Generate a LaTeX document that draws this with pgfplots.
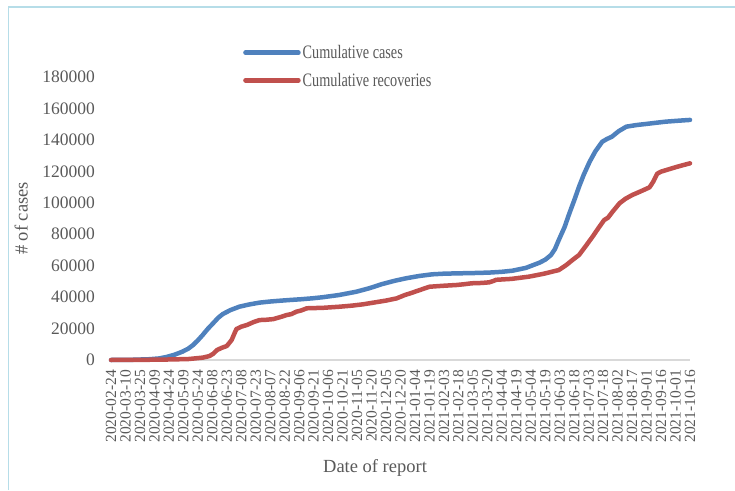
\documentclass[border=0pt]{standalone}
\usepackage{fontspec}
\setmainfont{Liberation Serif}
\newfontfamily\condfont[FakeStretch=0.75]{Liberation Serif}
\usepackage{pgfplots}
\pgfplotsset{compat=1.18}
\definecolor{cblue}{RGB}{79,129,189}
\definecolor{cred}{RGB}{192,80,77}
\definecolor{tgray}{RGB}{89,89,89}
\definecolor{agray}{RGB}{217,217,217}
\definecolor{framecol}{RGB}{182,221,232}
\begin{document}
\begin{tikzpicture}[x=1pt,y=1pt]
\useasboundingbox (0,0) rectangle (735,490);
\draw[framecol, line width=1.5pt] (8.5,0) -- (8.5,483) -- (735,483);
\begin{axis}[
  at={(111pt,130pt)}, anchor=south west,
  scale only axis, width=579pt, height=283pt,
  xmin=0, xmax=600, ymin=0, ymax=180000,
  axis x line=bottom, axis y line=left,
  x axis line style={agray, line width=1.5pt, -},
  y axis line style={draw=none},
  xtick={0,15,...,600},
  xticklabels={2020-02-24,2020-03-10,2020-03-25,2020-04-09,2020-04-24,2020-05-09,2020-05-24,2020-06-08,2020-06-23,2020-07-08,2020-07-23,2020-08-07,2020-08-22,2020-09-06,2020-09-21,2020-10-06,2020-10-21,2020-11-05,2020-11-20,2020-12-05,2020-12-20,2021-01-04,2021-01-19,2021-02-03,2021-02-18,2021-03-05,2021-03-20,2021-04-04,2021-04-19,2021-05-04,2021-05-19,2021-06-03,2021-06-18,2021-07-03,2021-07-18,2021-08-02,2021-08-17,2021-09-01,2021-09-16,2021-10-01,2021-10-16},
  xticklabel style={yshift=-10pt, rotate=90, anchor=east, font=\fontsize{15.5}{15.5}\selectfont, text=tgray, inner sep=0pt},
  ytick={0,20000,...,180000},
  scaled y ticks=false,
  yticklabel style={anchor=east, font=\fontsize{17.5}{17.5}\selectfont, text=tgray, inner sep=0pt, xshift=-16pt},
  /pgf/number format/.cd, fixed, precision=0, 1000 sep={}, assume math mode=true, /pgfplots/.cd,
  major tick length=0pt,
  xlabel={Date of report},
  xlabel style={at={(axis description cs:0.456,-0.382)}, anchor=center, font=\fontsize{18.5}{18.5}\selectfont, text=tgray},
  ylabel={\# of cases},
  ylabel style={at={(axis description cs:-0.155,0.5)}, anchor=center, font=\fontsize{18.5}{18.5}\selectfont, text=tgray},
  legend style={at={(axis description cs:0.228,1.037)}, anchor=west, draw=none, fill=none, inner sep=0pt, font=\condfont\fontsize{19}{27}\selectfont, text=tgray, row sep=9pt, /tikz/every even column/.append style={column sep=0pt}},
  legend cell align=left,
  legend image code/.code={\draw[#1, line cap=round] (0pt,0pt) -- (53pt,0pt);},
  clip=false,
]
\addplot[cblue, line width=4.5pt, line join=round, line cap=round] coordinates {
(0,0) (20,100) (40,500) (50,1000) (58,2000) (66,3400) (74,5300) (80,7200) (85,9500) (90,12500) (95,15900) (100,19600) (106,23500) (111,26800) (116,29300) (124,31800) (133,33900) (143,35300) (154,36500) (165,37200) (175,37700) (186,38200) (196,38600) (208,39200) (219,39900) (236,41300) (254,43400) (268,45700) (281,48300) (294,50400) (306,52000) (320,53500) (333,54500) (345,54900) (358,55100) (375,55300) (392,55600) (405,56100) (416,56800) (430,58600) (444,61900) (450,63800) (456,66800) (460,70500) (464,76300) (470,84500) (475,93300) (480,101500) (485,110200) (490,118000) (496,126100) (502,132800) (509,138800) (514,140600) (519,142000) (526,145500) (534,148400) (544,149400) (554,150100) (565,150900) (575,151600) (588,152200) (600,152700)
};
\addlegendentry{Cumulative cases}
\addplot[cred, line width=4.5pt, line join=round, line cap=round] coordinates {
(0,0) (50,200) (80,600) (95,1500) (102,2500) (106,4000) (110,6400) (115,7800) (120,8900) (125,12700) (128,17000) (130,19700) (135,21200) (141,22300) (148,24200) (154,25400) (161,25600) (168,26000) (175,27200) (182,28600) (187,29200) (192,30700) (197,31500) (203,32900) (220,33200) (237,33900) (250,34600) (261,35400) (272,36500) (285,37800) (296,39200) (304,41200) (312,42800) (320,44500) (330,46600) (344,47200) (358,47700) (366,48200) (374,48800) (384,49000) (392,49400) (396,50200) (399,51000) (415,51600) (433,53000) (448,54800) (464,57200) (472,60500) (478,63500) (485,66800) (492,72500) (499,78400) (505,83800) (511,89000) (515,90500) (520,94500) (527,99700) (533,102500) (540,104900) (549,107300) (558,109800) (562,113500) (566,118500) (570,119800) (578,121300) (585,122600) (592,123800) (600,125100)
};
\addlegendentry{Cumulative recoveries}
\end{axis}
\end{tikzpicture}
\end{document}
